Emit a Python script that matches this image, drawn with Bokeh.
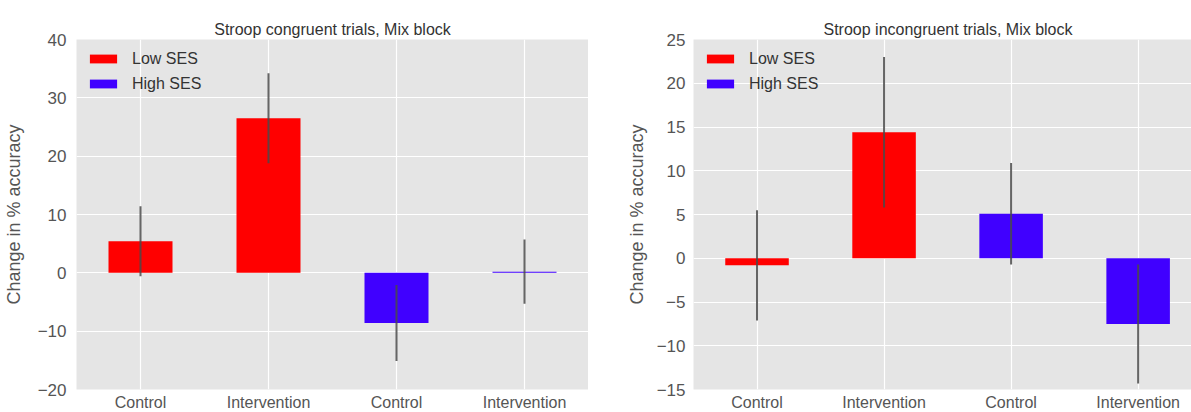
from bokeh.plotting import figure
from bokeh.layouts import row
from bokeh.models import ColumnDataSource, FixedTicker, CustomJSTickFormatter, Legend, LegendItem, Range1d
from bokeh.embed import file_html
from bokeh.resources import INLINE

# ---- data ----
groups = ["Control", "Intervention", "Control", "Intervention"]
ses = ["Low SES", "Low SES", "High SES", "High SES"]
ses_levels = ["Low SES", "High SES"]
cong_values = [5.4, 26.5, -8.6, 0.2]
cong_errors = [6.0, 7.7, 6.5, 5.5]
incong_values = [-0.8, 14.4, 5.1, -7.5]
incong_errors = [6.3, 8.6, 5.8, 6.8]
titles = ["Stroop congruent trials, Mix block", "Stroop incongruent trials, Mix block"]
y_label = "Change in % accuracy"
cong_yticks = [-20, -10, 0, 10, 20, 30, 40]
incong_yticks = [-15, -10, -5, 0, 5, 10, 15, 20, 25]

COLORS = {"Low SES": "#ff0000", "High SES": "#4000ff"}
FONT = "Liberation Sans"
TXT = "#555555"


def panel(title, values, errors, yticks, x_end, frame_w, frame_h, left, top,
          tick_standoff, label_standoff, title_align="center", title_offset=0):
    p = figure(frame_width=frame_w, frame_height=frame_h,
               x_range=Range1d(-0.5, x_end), y_range=Range1d(yticks[0], yticks[-1]),
               min_border_left=left, min_border_right=0, min_border_top=top,
               min_border_bottom=20,
               output_backend="svg", toolbar_location=None)
    p.background_fill_color = "#e5e5e5"
    p.border_fill_color = "white"
    p.outline_line_color = None

    xs = list(range(len(groups)))
    items = []
    for lvl in ses_levels:
        idx = [i for i in xs if ses[i] == lvl]
        src = ColumnDataSource(dict(x=[xs[i] for i in idx], top=[values[i] for i in idx]))
        r = p.vbar(x="x", top="top", bottom=0, width=0.5, source=src,
                   fill_color=COLORS[lvl], line_color=None)
        items.append(LegendItem(label=lvl, renderers=[r]))

    esrc = ColumnDataSource(dict(x=xs,
                                 lo=[v - e for v, e in zip(values, errors)],
                                 hi=[v + e for v, e in zip(values, errors)]))
    p.segment(x0="x", y0="lo", x1="x", y1="hi", source=esrc,
              line_color="#4a4a4a", line_width=2, line_alpha=0.85)

    leg = Legend(items=items, location="top_left")
    leg.border_line_color = None
    leg.background_fill_alpha = 0
    leg.label_text_font = FONT
    leg.label_text_font_size = "16px"
    leg.label_text_color = "#333333"
    leg.glyph_width = 34
    leg.glyph_height = 11
    leg.label_standoff = 12
    leg.label_height = 19
    leg.spacing = 6
    leg.margin = 10
    leg.padding = 3
    p.add_layout(leg)

    p.title.text = title
    p.title.align = title_align
    p.title.offset = title_offset
    p.title.text_font = FONT
    p.title.text_font_size = "16px"
    p.title.text_font_style = "normal"
    p.title.text_color = "#333333"
    p.title.standoff = 3

    p.xaxis.ticker = FixedTicker(ticks=xs)
    p.xaxis.major_label_overrides = {i: g for i, g in enumerate(groups)}
    p.yaxis.ticker = FixedTicker(ticks=yticks)
    p.yaxis.formatter = CustomJSTickFormatter(
        code="return tick < 0 ? '\u2212' + Math.abs(tick) : String(tick);")
    p.yaxis.axis_label = y_label
    p.yaxis.axis_label_text_font = FONT
    p.yaxis.axis_label_text_font_size = "18px"
    p.yaxis.axis_label_text_font_style = "normal"
    p.yaxis.axis_label_text_color = TXT
    p.yaxis.axis_label_standoff = label_standoff
    for ax in (p.xaxis, p.yaxis):
        ax.axis_line_color = None
        ax.major_tick_line_color = None
        ax.minor_tick_line_color = None
        ax.major_tick_out = 0
        ax.major_tick_in = 0
        ax.major_label_text_font = FONT
        ax.major_label_text_color = TXT
    p.yaxis.major_label_text_font_size = "17px"
    p.xaxis.major_label_text_font_size = "16px"
    p.xaxis.major_label_standoff = 4
    p.yaxis.major_label_standoff = tick_standoff

    p.xgrid.ticker = FixedTicker(ticks=xs)
    p.grid.grid_line_color = "white"
    p.grid.grid_line_width = 1.2
    return p


p1 = panel(titles[0], cong_values, cong_errors, cong_yticks, 3.5, 512, 350, 76, 39, 10, 11)
p2 = panel(titles[1], incong_values, incong_errors, incong_yticks, 3.42, 498, 350, 105, 39, 8, 7,
           title_align="left", title_offset=130)

layout = row(p1, p2, spacing=0)
open("out.html", "w").write(file_html(layout, INLINE))
